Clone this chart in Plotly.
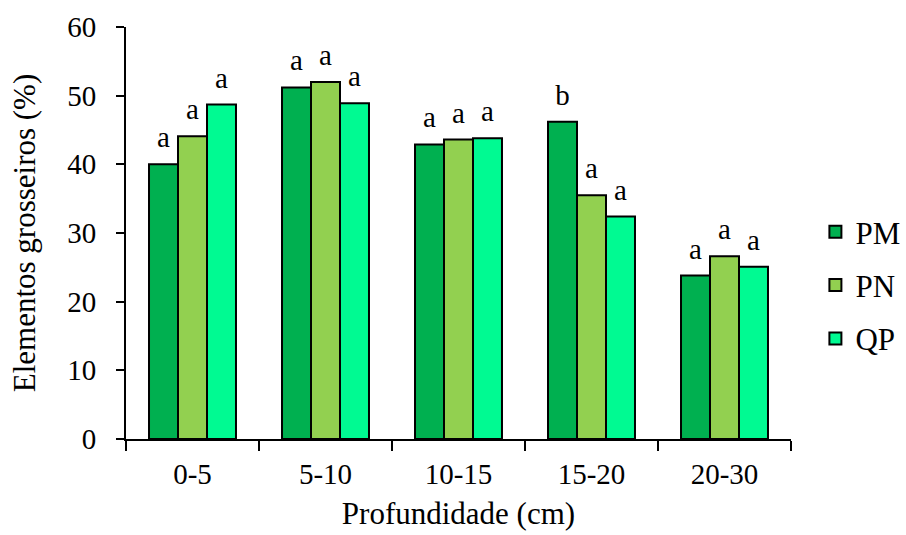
import plotly.graph_objects as go

categories = ["0-5", "5-10", "10-15", "15-20", "20-30"]
series_names = ["PM", "PN", "QP"]
pm_values = [40.0, 51.2, 42.9, 46.2, 23.8]
pn_values = [44.1, 52.0, 43.6, 35.5, 26.6]
qp_values = [48.7, 48.9, 43.8, 32.4, 25.1]
pm_letters = ["a", "a", "a", "b", "a"]
pn_letters = ["a", "a", "a", "a", "a"]
qp_letters = ["a", "a", "a", "a", "a"]
y_ticks = [0, 10, 20, 30, 40, 50, 60]

colors = ["#00B050", "#92D050", "#00FA92"]
FONT = "Times New Roman, Liberation Serif, Tinos, serif"

fig = go.Figure()
values_list = [pm_values, pn_values, qp_values]
letters_list = [pm_letters, pn_letters, qp_letters]
for name, vals, col in zip(series_names, values_list, colors):
    fig.add_trace(go.Bar(
        x=categories, y=vals, name=name, offsetgroup=name, legendgroup=name,
        marker=dict(color=col, line=dict(color="black", width=2)),
    ))
for name, vals, letters in zip(series_names, values_list, letters_list):
    fig.add_trace(go.Scatter(
        x=categories, y=vals, text=letters, mode="markers+text",
        textposition="top center", offsetgroup=name, legendgroup=name,
        marker=dict(size=14, color="rgba(0,0,0,0)"),
        textfont=dict(family=FONT, size=29, color="black"),
        showlegend=False, hoverinfo="skip", cliponaxis=False,
    ))

fig.update_layout(
    width=906, height=535,
    margin=dict(l=126, r=115, t=27, b=96, autoexpand=False),
    paper_bgcolor="white", plot_bgcolor="white",
    barmode="group", scattermode="group", bargap=0.346, bargroupgap=0,
    font=dict(family=FONT, size=29, color="black"),
    showlegend=True,
    legend=dict(xref="container", yref="container", x=0.9, y=0.467,
                xanchor="left", yanchor="middle",
                font=dict(family=FONT, size=31, color="black"),
                tracegroupgap=10, itemwidth=30, bgcolor="rgba(0,0,0,0)"),
)
fig.update_xaxes(
    type="category", showline=True, linecolor="black", linewidth=2,
    ticks="outside", ticklen=10, tickwidth=2, tickcolor="black",
    tickson="boundaries", showgrid=False, ticklabelstandoff=8, automargin=False,
    tickfont=dict(family=FONT, size=29, color="black"),
    title=dict(text="Profundidade (cm)", font=dict(family=FONT, size=31, color="black"), standoff=14),
)
fig.update_yaxes(
    range=[0, 60], tickvals=y_ticks, showline=True, linecolor="black", linewidth=2,
    ticks="outside", ticklen=8, tickwidth=2, tickcolor="black",
    showgrid=False, zeroline=False, ticklabelstandoff=14, automargin=False,
    tickfont=dict(family=FONT, size=29, color="black"),
    title=dict(text="Elementos grosseiros (%)", font=dict(family=FONT, size=31, color="black"), standoff=22),
)

fig.write_html("out.html")
